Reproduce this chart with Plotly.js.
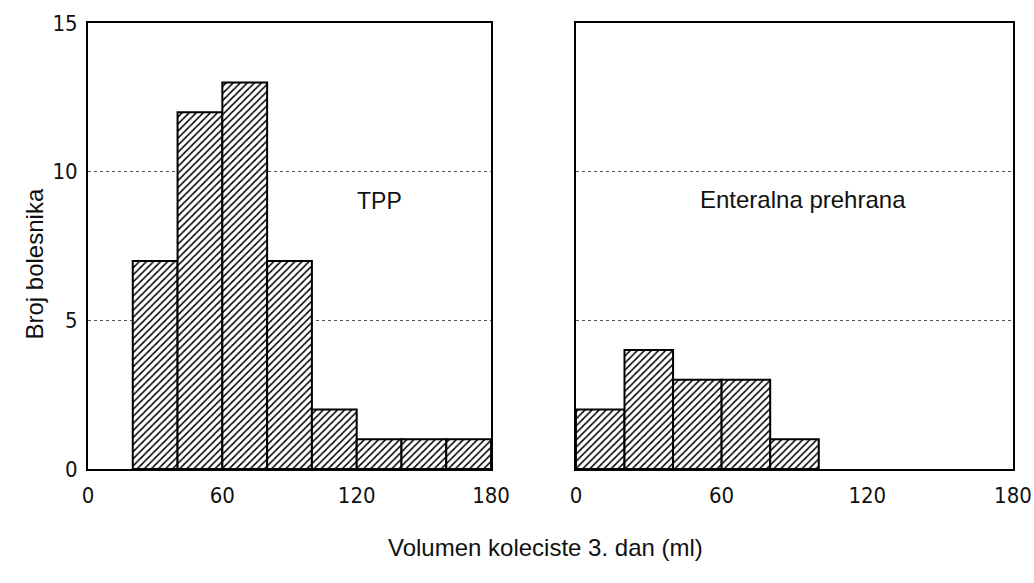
<!DOCTYPE html>
<html><head><meta charset="utf-8">
<script src="https://cdn.plot.ly/plotly-3.0.1.min.js"></script>
<style>html,body{margin:0;padding:0;background:#fff}#c{width:1034px;height:583px}</style>
</head><body><div id="c"></div>
<script>
const binCentersTPP = [30, 50, 70, 90, 110, 130, 150, 170];
const countsTPP = [7, 12, 13, 7, 2, 1, 1, 1];
const binCentersEnt = [10, 30, 50, 70, 90];
const countsEnt = [2, 4, 3, 3, 1];
const binWidth = 20;
const xTicks = [0, 60, 120, 180];
const yTicks = [0, 5, 10, 15];
const labelTPP = "TPP";
const labelEnt = "Enteralna prehrana";
const xTitle = "Volumen koleciste 3. dan (ml)";
const yTitle = "Broj bolesnika";

const barStyle = {
  color: "white",
  line: {color: "black", width: 2},
  pattern: {shape: "/", fgcolor: "black", bgcolor: "white", size: 5, solidity: 0.3}
};
const traces = [
  {type: "bar", x: binCentersTPP, y: countsTPP, width: binWidth, marker: barStyle, xaxis: "x", yaxis: "y", hoverinfo: "skip"},
  {type: "bar", x: binCentersEnt, y: countsEnt, width: binWidth, marker: barStyle, xaxis: "x2", yaxis: "y2", hoverinfo: "skip"}
];
const tickFont = {family: "DejaVu Sans Condensed, Liberation Sans Narrow, sans-serif", size: 22, color: "#111"};
const txtFont = "Liberation Sans, Arial, sans-serif";
const axX = (dom, anchor) => ({
  domain: dom, anchor: anchor, range: [0, 180], tickvals: xTicks, ticktext: xTicks.map(String),
  showgrid: false, zeroline: false, showline: true, linecolor: "black", linewidth: 2, mirror: true,
  ticks: "", tickfont: tickFont, ticklabelstandoff: 6
});
const axY = (anchor, labels) => ({
  domain: [0.1955, 0.9605], anchor: anchor, range: [0, 15], tickvals: yTicks, ticktext: yTicks.map(String),
  showticklabels: labels, showgrid: true, gridcolor: "#555", griddash: "dot", gridwidth: 1,
  zeroline: false, showline: true, linecolor: "black", linewidth: 2, mirror: true,
  ticks: "", tickfont: tickFont, ticklabelstandoff: 4
});
const layout = {
  width: 1034, height: 583,
  margin: {l: 0, r: 0, t: 0, b: 0},
  paper_bgcolor: "white", plot_bgcolor: "white",
  showlegend: false, bargap: 0,
  font: {family: txtFont, color: "#111"},
  xaxis: axX([0.0851, 0.4749], "y"),
  yaxis: axY("x", true),
  xaxis2: axX([0.557, 0.9797], "y2"),
  yaxis2: axY("x2", false),
  annotations: [
    {text: labelTPP, x: 130, y: 9.0, xref: "x", yref: "y", showarrow: false, font: {size: 23, family: txtFont}},
    {text: labelEnt, x: 93.5, y: 9.05, xref: "x2", yref: "y2", showarrow: false, font: {size: 24, family: txtFont}},
    {text: xTitle, x: 545/1034, y: 1 - 563/583, xref: "paper", yref: "paper", showarrow: false, font: {size: 24, family: txtFont}},
    {text: yTitle, x: 18/1034, y: 1 - 264/583, xref: "paper", yref: "paper", showarrow: false, textangle: -90, font: {size: 24, family: txtFont}}
  ]
};
Plotly.newPlot("c", traces, layout, {staticPlot: true, displayModeBar: false});
</script></body></html>
